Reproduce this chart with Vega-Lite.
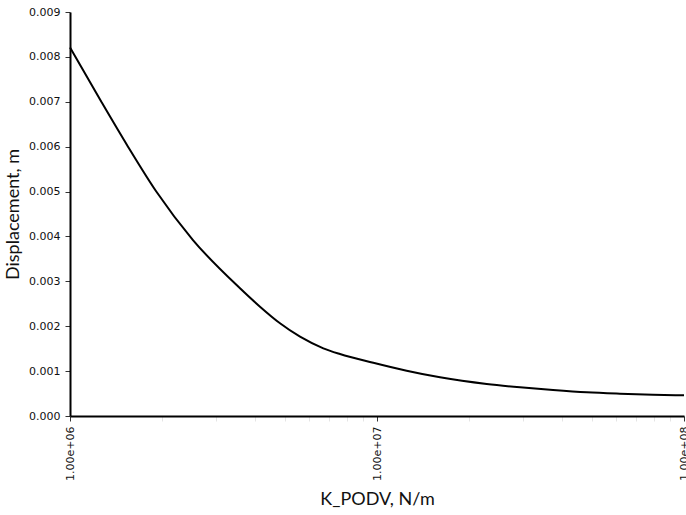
{
  "$schema": "https://vega.github.io/schema/vega-lite/v6.json",
  "autosize": "none",
  "width": 614,
  "height": 404,
  "padding": {"left": 70, "top": 12, "right": 2, "bottom": 99},
  "background": "white",
  "config": {"view": {"stroke": null}},
  "data": {
    "values": [
      {"k": 1000000, "d": 0.00821},
      {"k": 1265000, "d": 0.00700},
      {"k": 1545000, "d": 0.00600},
      {"k": 1910000, "d": 0.00500},
      {"k": 2515000, "d": 0.00392},
      {"k": 3579000, "d": 0.002845},
      {"k": 4158000, "d": 0.002435},
      {"k": 4831000, "d": 0.002065},
      {"k": 5614000, "d": 0.001767},
      {"k": 6686000, "d": 0.001508},
      {"k": 7577000, "d": 0.001381},
      {"k": 9726000, "d": 0.001187},
      {"k": 12490000, "d": 0.001009},
      {"k": 16040000, "d": 0.000862},
      {"k": 22770000, "d": 0.000713},
      {"k": 29230000, "d": 0.000639},
      {"k": 37450000, "d": 0.000579},
      {"k": 48220000, "d": 0.000528},
      {"k": 61860000, "d": 0.000497},
      {"k": 79250000, "d": 0.000474},
      {"k": 100000000, "d": 0.000461}
    ]
  },
  "mark": {"type": "line", "color": "black", "strokeWidth": 2, "interpolate": "monotone"},
  "encoding": {
    "x": {
      "field": "k",
      "type": "quantitative",
      "scale": {"type": "log", "domain": [1000000, 100000000], "nice": false},
      "axis": {
        "values": [1000000, 2000000, 3000000, 4000000, 5000000, 6000000, 7000000, 8000000, 9000000, 10000000, 20000000, 30000000, 40000000, 50000000, 60000000, 70000000, 80000000, 90000000, 100000000],
        "labelExpr": "(datum.value == 1000000 || datum.value == 10000000 || datum.value == 100000000) ? replace(format(datum.value, '.2e'), 'e+', 'e+0') : ''",
        "labelAngle": 270,
        "labelFont": "DejaVu Sans",
        "labelFontSize": 11,
        "labelColor": "#111",
        "labelPadding": 5,
        "tickSize": 5,
        "tickColor": {"condition": {"test": "datum.value == 1000000 || datum.value == 10000000 || datum.value == 100000000", "value": "#333"}, "value": "#e4e4e4"},
        "domainColor": "black",
        "domainWidth": 2,
        "grid": false,
        "title": "K_PODV, N/m",
        "titleFont": "Lato",
        "titleFontSize": 18,
        "titleFontWeight": "normal",
        "titleColor": "#111",
        "titlePadding": 10
      }
    },
    "y": {
      "field": "d",
      "type": "quantitative",
      "scale": {"domain": [0, 0.009], "nice": false},
      "axis": {
        "values": [0, 0.001, 0.002, 0.003, 0.004, 0.005, 0.006, 0.007, 0.008, 0.009],
        "format": ".3f",
        "labelFont": "DejaVu Sans",
        "labelFontSize": 11,
        "labelColor": "#111",
        "labelPadding": 5,
        "tickSize": 5,
        "tickColor": "#333",
        "domainColor": "black",
        "domainWidth": 2,
        "grid": false,
        "title": "Displacement, m",
        "titleFont": "Lato",
        "titleFontSize": 18,
        "titleFontWeight": "normal",
        "titleColor": "#111",
        "titlePadding": 6
      }
    }
  }
}
